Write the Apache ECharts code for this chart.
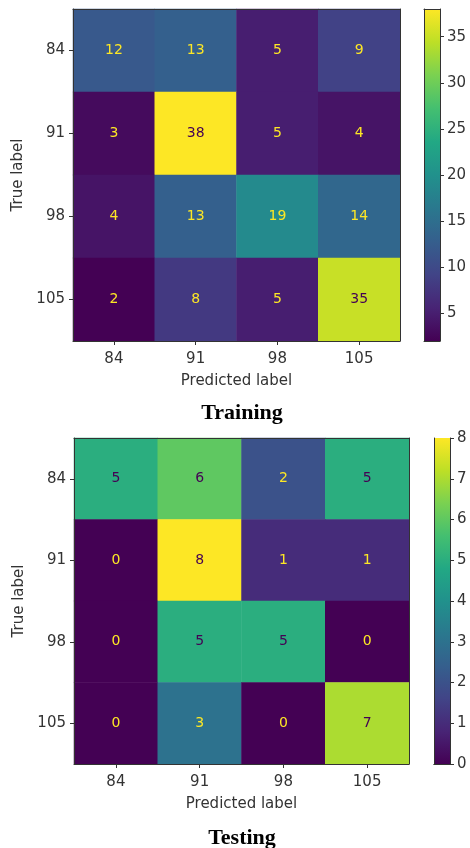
<!DOCTYPE html>
<html>
<head>
<meta charset="utf-8">
<script src="https://cdn.jsdelivr.net/npm/echarts@6/dist/echarts.min.js"></script>
<style>html,body{margin:0;padding:0;background:#fff}#c{width:470px;height:848px}</style>
</head>
<body>
<div id="c"></div>
<script>
// ---- data ----
var labels = ['84', '91', '98', '105'];
// rows = true label, columns = predicted label
var trainMatrix = [
  [12, 13, 5, 9],
  [3, 38, 5, 4],
  [4, 13, 19, 14],
  [2, 8, 5, 35]
];
var testMatrix = [
  [5, 6, 2, 5],
  [0, 8, 1, 1],
  [0, 5, 5, 0],
  [0, 3, 0, 7]
];
var trainTicks = [5, 10, 15, 20, 25, 30, 35];
var testTicks = [0, 1, 2, 3, 4, 5, 6, 7, 8];
var titles = ['Training', 'Testing'];

var viridis = ['#440154', '#482475', '#414487', '#355f8d', '#2a788e', '#21918c',
               '#22a884', '#44bf70', '#7ad151', '#bddf26', '#fde725'];
var FONT = 'DejaVu Sans';
var TXT = '#333333';

function toCells(m) {
  var out = [];
  for (var r = 0; r < m.length; r++)
    for (var c = 0; c < m[r].length; c++) out.push([c, r, m[r][c]]);
  return out;
}
function range(m) {
  var all = [].concat.apply([], m);
  return [Math.min.apply(null, all), Math.max.apply(null, all)];
}
var trR = range(trainMatrix), teR = range(testMatrix);

var chart = echarts.init(document.getElementById('c'), null, {renderer: 'canvas'});

var grids = [
  {left: 73, top: 9, width: 327, height: 332},
  {left: 424, top: 9, width: 16, height: 332},
  {left: 74, top: 438, width: 335, height: 326},
  {left: 434, top: 438, width: 16, height: 326}
];

function heatX(gi) {
  return [{
    type: 'category', gridIndex: gi, data: labels, position: 'bottom', z: 10,
    axisLine: {show: true, lineStyle: {color: '#333', width: 1}},
    axisTick: {show: true, alignWithLabel: true, length: 4, lineStyle: {color: '#333'}},
    axisLabel: {fontFamily: FONT, fontSize: 15, color: TXT, margin: 11},
    splitLine: {show: false},
    name: 'Predicted label', nameLocation: 'middle', nameGap: 33,
    nameTextStyle: {fontFamily: FONT, fontSize: 15, color: TXT}
  }, {
    type: 'category', gridIndex: gi, data: labels, position: 'top', z: 10,
    axisLine: {show: true, lineStyle: {color: '#333', width: 1}},
    axisTick: {show: false}, axisLabel: {show: false}, splitLine: {show: false}
  }];
}
function heatY(gi) {
  return [{
    type: 'category', gridIndex: gi, data: labels, inverse: true, position: 'left', z: 10,
    axisLine: {show: true, lineStyle: {color: '#333', width: 1}},
    axisTick: {show: true, alignWithLabel: true, length: 4, lineStyle: {color: '#333'}},
    axisLabel: {fontFamily: FONT, fontSize: 15, color: TXT, margin: 8},
    splitLine: {show: false},
    name: 'True label', nameLocation: 'middle', nameGap: 46, nameRotate: 90,
    nameTextStyle: {fontFamily: FONT, fontSize: 15, color: TXT}
  }, {
    type: 'category', gridIndex: gi, data: labels, inverse: true, position: 'right', z: 10,
    axisLine: {show: true, lineStyle: {color: '#333', width: 1}},
    axisTick: {show: false}, axisLabel: {show: false}, splitLine: {show: false}
  }];
}
function cbX(gi) {
  return [{
    type: 'category', gridIndex: gi, data: ['cb'], position: 'bottom', z: 10,
    axisLine: {show: true, lineStyle: {color: '#333'}}, axisTick: {show: false},
    axisLabel: {show: false}, splitLine: {show: false}
  }, {
    type: 'category', gridIndex: gi, data: ['cb'], position: 'top', z: 10,
    axisLine: {show: true, lineStyle: {color: '#333'}}, axisTick: {show: false},
    axisLabel: {show: false}, splitLine: {show: false}
  }];
}
function cbY(gi, r, ticks) {
  return [{
    type: 'value', gridIndex: gi, min: r[0], max: r[1], position: 'right', z: 10,
    axisLine: {show: true, lineStyle: {color: '#333'}},
    axisTick: {show: true, length: 4, customValues: ticks, lineStyle: {color: '#333'}},
    axisLabel: {show: true, customValues: ticks, fontFamily: FONT, fontSize: 15, color: TXT, margin: 7},
    splitLine: {show: false}
  }, {
    type: 'value', gridIndex: gi, min: r[0], max: r[1], position: 'left', z: 10,
    axisLine: {show: true, lineStyle: {color: '#333'}}, axisTick: {show: false},
    axisLabel: {show: false}, splitLine: {show: false}
  }];
}

var xAxes = [].concat(heatX(0), cbX(1), heatX(2), cbX(3));
var yAxes = [].concat(heatY(0), cbY(1, trR, trainTicks), heatY(2), cbY(3, teR, testTicks));

function labelFmt(r) {
  var thr = (r[0] + r[1]) / 2;
  return function (p) {
    var v = p.value[2];
    return v > thr ? '{d|' + v + '}' : '{l|' + v + '}';
  };
}
function heatLabel(r) {
  return {
    show: true, formatter: labelFmt(r),
    rich: {
      d: {color: '#440154', fontFamily: FONT, fontSize: 14},
      l: {color: '#fde725', fontFamily: FONT, fontSize: 14}
    }
  };
}
function gradient() {
  var stops = viridis.map(function (c, i) {
    return {offset: 1 - i / (viridis.length - 1), color: c};
  }).reverse();
  return new echarts.graphic.LinearGradient(0, 0, 0, 1, stops);
}

var option = {
  animation: false,
  backgroundColor: '#ffffff',
  title: [
    {text: titles[0], left: 242, top: 402, textAlign: 'center', padding: 0,
     textStyle: {fontFamily: 'Liberation Serif', fontWeight: 'bold', fontSize: 22, color: '#000'}},
    {text: titles[1], left: 242, top: 827, textAlign: 'center', padding: 0,
     textStyle: {fontFamily: 'Liberation Serif', fontWeight: 'bold', fontSize: 22, color: '#000'}}
  ],
  grid: grids,
  xAxis: xAxes,
  yAxis: yAxes,
  visualMap: [
    {type: 'continuous', show: false, seriesIndex: 0, min: trR[0], max: trR[1], dimension: 2,
     inRange: {color: viridis}},
    {type: 'continuous', show: false, seriesIndex: 2, min: teR[0], max: teR[1], dimension: 2,
     inRange: {color: viridis}}
  ],
  series: [
    {type: 'heatmap', xAxisIndex: 0, yAxisIndex: 0, data: toCells(trainMatrix),
     label: heatLabel(trR), itemStyle: {borderWidth: 0}, emphasis: {disabled: true}},
    {type: 'bar', xAxisIndex: 2, yAxisIndex: 2, data: [trR[1]], barWidth: '100%',
     itemStyle: {color: gradient()}, silent: true},
    {type: 'heatmap', xAxisIndex: 4, yAxisIndex: 4, data: toCells(testMatrix),
     label: heatLabel(teR), itemStyle: {borderWidth: 0}, emphasis: {disabled: true}},
    {type: 'bar', xAxisIndex: 6, yAxisIndex: 6, data: [teR[1]], barWidth: '100%',
     itemStyle: {color: gradient()}, silent: true}
  ]
};
chart.setOption(option);
</script>
</body>
</html>
